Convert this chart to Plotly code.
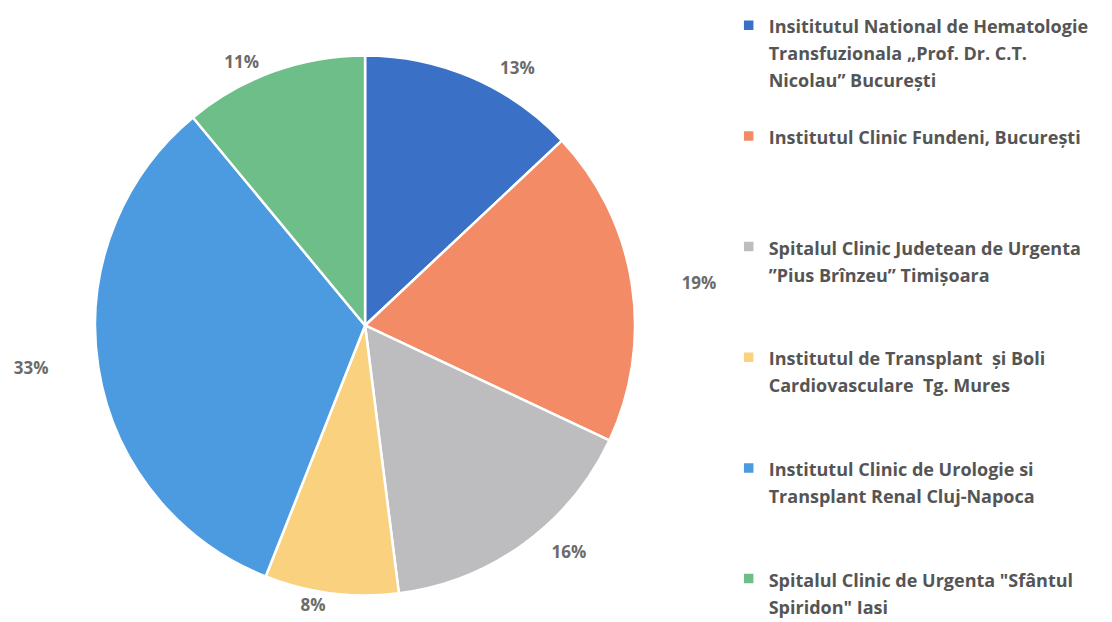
import plotly.graph_objects as go

labels = [
    "Insititutul National de Hematologie<br>Transfuzionala „Prof. Dr. C.T.<br>Nicolau” București",
    "Institutul Clinic Fundeni, București",
    "Spitalul Clinic Judetean de Urgenta<br>”Pius Brînzeu” Timișoara",
    "Institutul de Transplant  și Boli<br>Cardiovasculare  Tg. Mures",
    "Institutul Clinic de Urologie si<br>Transplant Renal Cluj-Napoca",
    "Spitalul Clinic de Urgenta \"Sfântul<br>Spiridon\" Iasi",
]
values = [13, 19, 16, 8, 33, 11]
colors = ["#3A70C6", "#F28B66", "#BDBDBF", "#FAD17F", "#4C9BE0", "#6DBE89"]

# extra gap (in non-breaking spaces) between slice edge and its percent label
label_gap_before = [5, 10, 5, 0, 0, 0]
label_gap_after = [0, 0, 0, 0, 10, 2]

LINES_PER_ITEM = 4


def legend_name(lbl, last):
    lines = lbl.split("<br>")
    txt = "<br>".join('<span style="font-size:18px">%s</span>' % s for s in lines)
    if last:
        return txt
    return txt + "<br>&nbsp;" * (LINES_PER_ITEM - len(lines))


legend_names = [legend_name(l, i == len(labels) - 1) for i, l in enumerate(labels)]
templates = [
    "\u00a0" * b + "%{percent:.0%}" + "\u00a0" * a
    for b, a in zip(label_gap_before, label_gap_after)
]

fig = go.Figure(
    go.Pie(
        labels=legend_names,
        values=values,
        sort=False,
        direction="clockwise",
        rotation=0,
        marker=dict(colors=colors, line=dict(color="white", width=2.5)),
        texttemplate=templates,
        textposition="outside",
        textfont=dict(family="Open Sans", size=17, color="#6b6b6b", weight="bold"),
        domain=dict(x=[0.0783, 0.5639], y=[0.0555, 0.9237]),
        hoverinfo="percent",
    )
)

fig.update_layout(
    width=1112,
    height=622,
    margin=dict(l=0, r=0, t=0, b=0, autoexpand=False),
    paper_bgcolor="white",
    plot_bgcolor="white",
    showlegend=True,
    legend=dict(
        x=0.6481,
        y=1.0042,
        xanchor="left",
        yanchor="top",
        valign="top",
        maxheight=700,
        font=dict(family="Open Sans", size=20.7, color="#555555", weight="bold"),
        bgcolor="rgba(0,0,0,0)",
    ),
)

fig.write_html("out.html")
